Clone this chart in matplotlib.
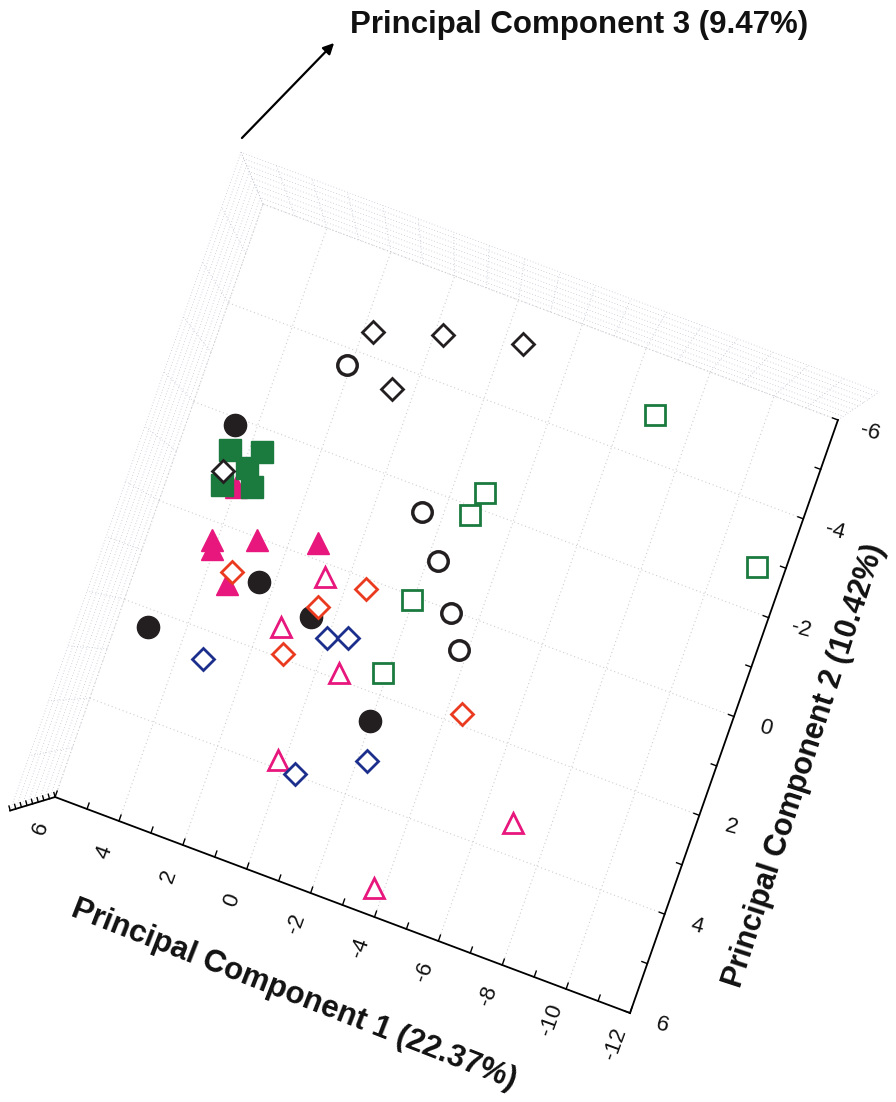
import matplotlib
matplotlib.use('Agg')
import matplotlib.pyplot as plt
import numpy as np
from matplotlib.transforms import Affine2D

plt.rcParams['font.family'] = ['Liberation Sans', 'DejaVu Sans']

# scores (PC1, PC2), one pair of lists per group
blk_fill_pc1 = [4.63, 2.44, 0.67, 5.08, -1.97]
blk_fill_pc2 = [-1.86, 0.79, 1.06, 2.34, 2.53]

grn_fill_pc1 = [4.53, 3.62, 3.88, 4.41, 3.56]
grn_fill_pc2 = [-1.38, -1.56, -1.17, -0.70, -0.87]

pnk_fill_pc1 = [4.15, 4.06, 2.91, 1.19, 3.31, 4.00]
pnk_fill_pc2 = [0.35, 0.51, 0.05, -0.31, 1.04, -0.76]

blk_dia_pc1 = [1.72, -0.25, -2.55, 0.64, 4.52]
blk_dia_pc2 = [-4.45, -4.87, -5.24, -3.56, -0.96]

blk_circ_pc1 = [2.12, -1.39, -2.30, -3.17, -3.75]
blk_circ_pc2 = [-3.69, -1.56, -0.79, 0.05, 0.66]

grn_sq_pc1 = [-6.89, -2.94, -2.74, -1.96, -1.87, -11.19]
grn_sq_pc2 = [-4.86, -2.32, -1.83, 0.08, 1.58, -2.83]

red_dia_pc1 = [3.29, 0.57, -0.58, 1.08, -4.45]
red_dia_pc2 = [0.79, 0.84, 0.19, 1.91, 1.78]

pnk_tri_pc1 = [0.67, 1.40, -0.65, 0.19, -6.92, -3.70]
pnk_tri_pc2 = [0.25, 1.44, 1.88, 3.84, 3.39, 5.48]

blu_dia_pc1 = [0.02, -0.56, 3.25, -2.28, -0.41]
blu_dia_pc2 = [1.33, 1.19, 2.54, 3.26, 3.98]

pc1_ticks = [6, 4, 2, 0, -2, -4, -6, -8, -10, -12]
pc2_ticks = [6, 4, 2, 0, -2, -4, -6]
pc1_lim = (6, -12)
pc2_lim = (6, -6)

title3 = 'Principal Component 3 (9.47%)'
label1 = 'Principal Component 1 (22.37%)'
label2 = 'Principal Component 2 (10.42%)'

W, H = 896, 1102
fig = plt.figure(figsize=(W / 100, H / 100), dpi=100)
ax = fig.add_axes([0, 0, 1, 1])
ax.set_xlim(0, W)
ax.set_ylim(H, 0)
ax.axis('off')

# the floor of the 3-D box, seen from above and turned
floor = Affine2D(np.array([[-31.94, -17.33, 350.7],
                           [-12.0, 49.42, 572.5],
                           [0, 0, 1.0]]))
tr = floor + ax.transData

# walls rise towards the viewer: scale about the point under the camera
ctr = np.array([-4.1, 1.06])
def lift(s):
    return Affine2D().translate(-ctr[0], -ctr[1]).scale(s).translate(ctr[0], ctr[1]) + floor

wall_kw = dict(color='#b4b8c8', lw=0.6, ls=(0, (1, 2.5)), alpha=0.8, zorder=0)
levels = np.linspace(1.0, 1.11, 9)
for s in levels:
    pts = lift(s).transform([[pc1_lim[0], pc2_lim[0]], [pc1_lim[0], pc2_lim[1]],
                             [pc1_lim[1], pc2_lim[1]]])
    ax.plot(pts[:, 0], pts[:, 1], **wall_kw)
for v in np.arange(-6, 7):
    p = np.array([lift(s).transform([pc1_lim[0], v]) for s in (1.0, 1.11)])
    ax.plot(p[:, 0], p[:, 1], **wall_kw)
for v in np.arange(-12, 7):
    p = np.array([lift(s).transform([v, pc2_lim[1]]) for s in (1.0, 1.11)])
    ax.plot(p[:, 0], p[:, 1], **wall_kw)

# floor grid
grid_kw = dict(color='#cfcfcf', lw=0.8, ls=(0, (1, 2.5)), zorder=0.5)
for v in pc1_ticks:
    ax.plot([v, v], list(pc2_lim), transform=tr, **grid_kw)
for v in pc2_ticks:
    ax.plot(list(pc1_lim), [v, v], transform=tr, **grid_kw)

# axis lines and ticks
ax.plot(list(pc1_lim), [pc2_lim[0]] * 2, transform=tr, color='k', lw=1.3, zorder=1)
ax.plot([pc1_lim[1]] * 2, list(pc2_lim), transform=tr, color='k', lw=1.3, zorder=1)
for v in np.arange(-12, 7):
    ax.plot([v, v], [6, 5.88], transform=tr, color='k', lw=1.0, zorder=1)
for v in np.arange(-6, 7):
    ax.plot([-12, -11.83], [v, v], transform=tr, color='k', lw=1.0, zorder=1)

# PC3 axis, seen end-on at the near corner
p3 = np.array([lift(s).transform([pc1_lim[0], pc2_lim[0]]) for s in levels])
ax.plot(p3[:, 0], p3[:, 1], color='k', lw=1.3, zorder=1)
for x, y in p3:
    ax.plot([x, x - 1.2], [y, y - 4.5], color='k', lw=1.0, zorder=1)

for v in pc1_ticks:
    ax.text(v + 0.1, 6.65, str(v), transform=tr, rotation=70, fontsize=16,
            ha='center', va='center', color='#111111')
for v in pc2_ticks:
    ax.text(-13.0, v, str(v), transform=tr, rotation=-15, fontsize=16,
            ha='center', va='center', color='#111111')

ax.text(294, 995, label1, rotation=-21.4, fontsize=22.5, fontweight='bold',
        ha='center', va='center', rotation_mode='anchor', color='#111111')
ax.text(804, 766, label2, rotation=72, fontsize=22, fontweight='bold',
        ha='center', va='center', rotation_mode='anchor', color='#111111')

ax.annotate('', xy=(336, 41), xytext=(240, 140),
            arrowprops=dict(arrowstyle='-|>', lw=1.6, color='k', mutation_scale=16))
ax.text(350, 25, title3, fontsize=22.5, fontweight='bold', ha='left', va='center',
        color='#111111')

# markers
black = '#231f20'
green = '#1b7a3e'
pink = '#e8177d'
red = '#ea3a1f'
blue = '#1c2f8c'
lw_open = 2.0

ax.plot(pnk_fill_pc1, pnk_fill_pc2, ls='none', marker='^', ms=15.5, mfc=pink, mec=pink,
        mew=1, transform=tr, zorder=2)
ax.plot(blk_fill_pc1, blk_fill_pc2, ls='none', marker='o', ms=16, mfc=black, mec=black,
        mew=1, transform=tr, zorder=3)
ax.plot(grn_fill_pc1, grn_fill_pc2, ls='none', marker='s', ms=16, mfc=green, mec=green,
        mew=1, transform=tr, zorder=4)
ax.plot(blk_circ_pc1, blk_circ_pc2, ls='none', marker='o', ms=14, mfc='white', mec=black,
        mew=2.5, transform=tr, zorder=5)
ax.plot(grn_sq_pc1, grn_sq_pc2, ls='none', marker='s', ms=14.8, mfc='white', mec=green,
        mew=lw_open, transform=tr, zorder=5)
ax.plot(pnk_tri_pc1, pnk_tri_pc2, ls='none', marker='^', ms=14.5, mfc='white', mec=pink,
        mew=lw_open, transform=tr, zorder=5)
ax.plot(blk_dia_pc1, blk_dia_pc2, ls='none', marker='D', ms=10.7, mfc='white', mec=black,
        mew=lw_open, transform=tr, zorder=6)
ax.plot(red_dia_pc1, red_dia_pc2, ls='none', marker='D', ms=10.7, mfc='white', mec=red,
        mew=lw_open, transform=tr, zorder=6)
ax.plot(blu_dia_pc1, blu_dia_pc2, ls='none', marker='D', ms=10.7, mfc='white', mec=blue,
        mew=lw_open, transform=tr, zorder=7)

fig.savefig('out.png', dpi=100)
